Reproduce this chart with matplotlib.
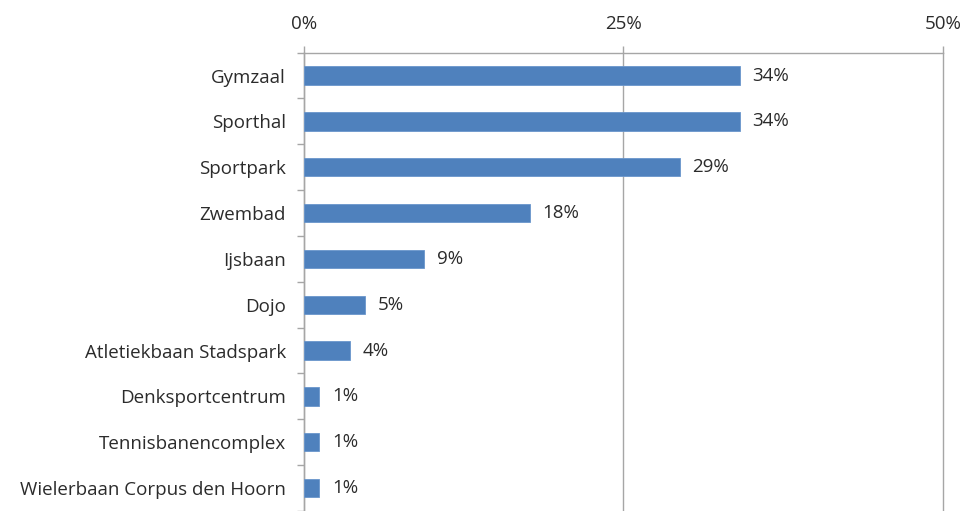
import matplotlib.pyplot as plt
import numpy as np

categories = ['Gymzaal', 'Sporthal', 'Sportpark', 'Zwembad', 'Ijsbaan', 'Dojo',
              'Atletiekbaan Stadspark', 'Denksportcentrum', 'Tennisbanencomplex',
              'Wielerbaan Corpus den Hoorn']
values = [34.1, 34.1, 29.4, 17.7, 9.4, 4.8, 3.6, 1.2, 1.2, 1.2]
labels = ['34%', '34%', '29%', '18%', '9%', '5%', '4%', '1%', '1%', '1%']
x_ticks = [0, 25, 50]

plt.rcParams['font.family'] = ['Open Sans', 'DejaVu Sans']
text_color = '#2b2b2b'
grid_color = '#A6A6A6'
fs = 13.5

fig = plt.figure(figsize=(9.64, 5.11), dpi=100)
ax = fig.add_axes([0.3154, 0.0, 0.978 - 0.3154, 0.897])

y = np.arange(len(categories))
ax.barh(y, values, height=0.4, color='#4F81BD', edgecolor='#6A96CC', linewidth=0.6, zorder=3)

for yi, v, lab in zip(y, values, labels):
    ax.annotate(lab, (v, yi), xytext=(9, 0), textcoords='offset points',
                va='center', ha='left', fontsize=fs, color=text_color)

ax.set_xlim(0, 50)
ax.set_ylim(9.39, -0.5)

ax.xaxis.tick_top()
ax.set_xticks(x_ticks)
ax.set_xticklabels([f'{t}%' for t in x_ticks])
ax.tick_params(axis='x', length=5, width=1, color=grid_color, pad=9,
               labelsize=fs, labelcolor=text_color)
ax.grid(axis='x', color=grid_color, linewidth=1, zorder=0)
for gl in ax.get_xgridlines():
    gl.set_clip_on(False)

ax.set_yticks(y)
ax.set_yticklabels(categories)
ax.tick_params(axis='y', which='major', length=0, pad=13, labelsize=fs, labelcolor=text_color)
ax.set_yticks(np.arange(-0.5, len(categories), 1), minor=True)
ax.tick_params(axis='y', which='minor', length=5, width=1, color=grid_color)

for side in ['right', 'bottom']:
    ax.spines[side].set_visible(False)
for side in ['top', 'left']:
    ax.spines[side].set_color(grid_color)
    ax.spines[side].set_linewidth(1)

fig.savefig('out.png', dpi=100)
